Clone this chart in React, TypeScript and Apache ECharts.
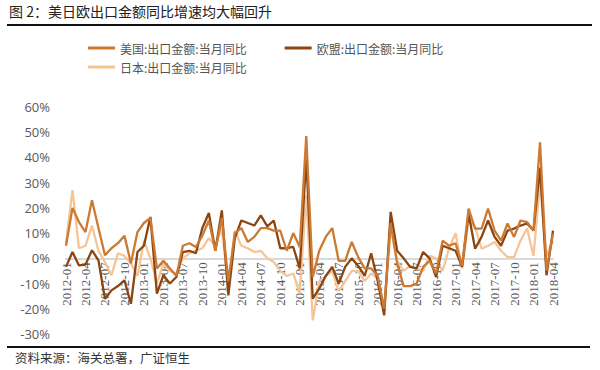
import React, { useEffect, useRef } from "react";
import * as echarts from "echarts";

const TITLE = "图 2：美日欧出口金额同比增速均大幅回升";
const SOURCE = "资料来源：海关总署，广证恒生";
const SERIES_NAMES = ["美国:出口金额:当月同比", "欧盟:出口金额:当月同比", "日本:出口金额:当月同比"];
const COLORS = ["#CC7A33", "#8A4513", "#F5C597"];

const START_YEAR = 2012;
const MONTH_COUNT = 76;
const months: string[] = [];
for (let i = 0; i < MONTH_COUNT; i++) {
  const y = START_YEAR + Math.floor(i / 12);
  const m = (i % 12) + 1;
  months.push(`${y}-${m < 10 ? "0" + m : m}`);
}

const usValues = [
  5, 20, 14.4, 10.4, 23, 12, 1.2, 4, 6, 9, -2, 10.4,
  14, 16, -4, -1, -4, -7, 5, 6, 4.5, 9, 15, 3,
  16, -9, 10, 12, 6.5, 8.5, 12, 12, 11, 11, 3, 10,
  4.5, 48.5, -7.4, 3, 8.5, 12, -1, -1, 6.5, 0.5, -4, -4,
  -7, -20, 14, -2, -11, -11, -10, -3.4, -1, -6, 7, 5,
  6, -3, 19.7, 11.8, 11.8, 19.7, 11, 7, 13.8, 8.5, 15, 14.4,
  11, 46, -4.8, 9.8,
];
const euValues = [
  -3.4, 2.5, -2.8, -2.5, 3.2, -0.8, -16, -12.7, -11, -8.7, -18, 2.5,
  5, 16.4, -14, -6.7, -10, -7.4, 2.5, 3, 2, 12, 18, 3,
  19, -14.7, 8, 15, 14, 13, 17, 12.7, 15, 4, 4, 4.5,
  -4, 40, -16, -12, -7, -3.4, -10, -3.4, 0, -3, -7, 2,
  -9, -22.6, 18.4, 3, 0, -3.4, -4, 2.5, 0, -7.4, 5, 4,
  3, -3.4, 17.7, 3.8, 8.5, 15, 8.5, 5, 11, 11.8, 13, 13.8,
  11, 36, -6.7, 11,
];
const jpValues = [
  6, 27, 4, 5, 13, 3, -1.5, -6.7, 2, 1, -2, -7,
  7, 0, -10, -2, -5, -6, 0, 2, 3, 4, 8, 5,
  12, -12, 11, 5, 4, 2.5, 3, 0, -1.5, -5, -7, -6,
  -14, 25, -24.6, -9, -7, -5, -13, -9, -5, -5, -9, -6,
  -8, -21, 12, -1, -5, -3, -4, -5, 1, 0, -5, 4,
  10, -4, 15, 12.4, 3.8, 5, 6.5, 3, 0.5, 0.5, 7, 11.8,
  1, 30, 1, 7,
];

const Y_MIN = -30;
const Y_MAX = 60;
const Y_STEP = 10;

export default function App() {
  const ref = useRef<HTMLDivElement>(null);
  useEffect(() => {
    if (!ref.current) return;
    const chart = echarts.init(ref.current, null, { renderer: "svg" });
    const cjk = "'Noto Sans CJK SC', sans-serif";
    const legendText = { color: "#555", fontSize: 12, fontFamily: cjk };
    const gridTop = 107;
    const gridBottom = 36;
    const plotH = 370 - gridTop - gridBottom;
    const zeroOffset = (plotH * (Y_MAX - 0)) / (Y_MAX - Y_MIN);
    chart.setOption({
      animation: false,
      backgroundColor: "#fff",
      grid: [
        { left: 66, right: 47, top: gridTop, bottom: gridBottom, containLabel: false },
        { left: 66, right: 47, top: gridTop, height: zeroOffset, containLabel: false },
      ],
      legend: [
        {
          data: [SERIES_NAMES[0], SERIES_NAMES[1]],
          left: 83,
          top: 37,
          orient: "horizontal",
          itemGap: 38,
          itemWidth: 27,
          itemHeight: 3,
          icon: "rect",
          textStyle: legendText,
        },
        {
          data: [SERIES_NAMES[2]],
          left: 83,
          top: 56,
          itemWidth: 27,
          itemHeight: 3,
          icon: "rect",
          textStyle: legendText,
        },
      ],
      xAxis: [
        {
          type: "category",
          gridIndex: 0,
          data: months,
          boundaryGap: false,
          axisLine: { onZero: true, lineStyle: { color: "#D9D9D9", width: 2 } },
          axisTick: { show: false },
          axisLabel: { show: false },
          splitLine: { show: false },
        },
        {
          type: "category",
          gridIndex: 1,
          data: months,
          boundaryGap: false,
          axisLine: { show: false },
          axisTick: { show: false },
          axisLabel: {
            interval: 2,
            rotate: 90,
            margin: 4,
            color: "#595959",
            fontSize: 13,
            fontFamily: "'Liberation Serif', serif",
          },
          splitLine: { show: false },
        },
      ],
      yAxis: [
        {
          type: "value",
          gridIndex: 0,
          min: Y_MIN,
          max: Y_MAX,
          interval: Y_STEP,
          axisLine: { show: false },
          axisTick: { show: false },
          splitLine: { show: false },
          axisLabel: {
            formatter: "{value}%",
            color: "#595959",
            fontSize: 13,
            margin: 16,
            fontFamily: "'Open Sans', sans-serif",
          },
        },
        {
          type: "value",
          gridIndex: 1,
          min: 0,
          max: 1,
          show: false,
        },
      ],
      series: [
        { name: SERIES_NAMES[0], type: "line", data: usValues, color: COLORS[0], showSymbol: false, lineStyle: { width: 2.3, color: COLORS[0] }, z: 3 },
        { name: SERIES_NAMES[1], type: "line", data: euValues, color: COLORS[1], showSymbol: false, lineStyle: { width: 2.3, color: COLORS[1] }, z: 2 },
        { name: SERIES_NAMES[2], type: "line", data: jpValues, color: COLORS[2], showSymbol: false, lineStyle: { width: 2.3, color: COLORS[2] }, z: 1 },
      ],
      graphic: [
        {
          type: "text",
          left: 9,
          top: 4,
          style: { text: TITLE, fill: "#222", fontSize: 14, fontFamily: cjk },
        },
        {
          type: "line",
          shape: { x1: 7, y1: 25, x2: 592, y2: 25 },
          style: { stroke: "#111", lineWidth: 2 },
        },
        {
          type: "line",
          shape: { x1: 7, y1: 347, x2: 590, y2: 347 },
          style: { stroke: "#111", lineWidth: 2 },
        },
        {
          type: "text",
          left: 15,
          top: 351,
          style: { text: SOURCE, fill: "#333", fontSize: 12.5, fontFamily: cjk },
        },
      ],
    });
    return () => chart.dispose();
  }, []);
  return <div ref={ref} style={{ position: "fixed", left: 0, top: 0, width: 600, height: 370 }} />;
}
